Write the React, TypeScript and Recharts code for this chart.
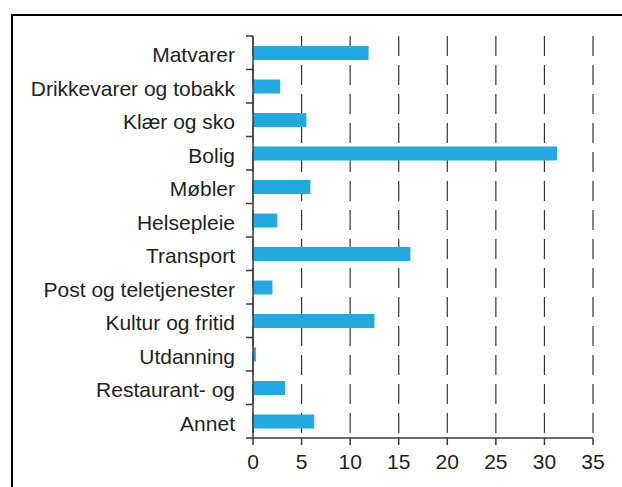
import { BarChart, Bar, XAxis, YAxis, CartesianGrid } from "recharts";

const categories = [
  "Matvarer",
  "Drikkevarer og tobakk",
  "Klær og sko",
  "Bolig",
  "Møbler",
  "Helsepleie",
  "Transport",
  "Post og teletjenester",
  "Kultur og fritid",
  "Utdanning",
  "Restaurant- og",
  "Annet",
];
const values = [11.9, 2.8, 5.5, 31.3, 5.9, 2.5, 16.2, 2.0, 12.5, 0.3, 3.3, 6.3];
const xTicks = [0, 5, 10, 15, 20, 25, 30, 35];

const data = categories.map((name, i) => ({ name, value: values[i] }));

const W = 622;
const H = 487;
const AXIS_X = 253;
const TOP = 36;
const BOTTOM_MARGIN = 19;
const X_AXIS_H = 30;
const PLOT_H = H - TOP - BOTTOM_MARGIN - X_AXIS_H;
const BAND = PLOT_H / categories.length;
const FONT = '"Liberation Sans", Arial, sans-serif';
const TEXT = "#231f20";
const AXIS = "#3a3a3a";

function CategoryTick(props: any) {
  const { y, payload, index } = props;
  const yc = payload.coordinate ?? y;
  return (
    <g>
      {index === 0 && (
        <line x1={AXIS_X - 7} x2={AXIS_X} y1={yc - BAND / 2} y2={yc - BAND / 2} stroke={AXIS} strokeWidth={1.5} />
      )}
      <line x1={AXIS_X - 7} x2={AXIS_X} y1={yc + BAND / 2} y2={yc + BAND / 2} stroke={AXIS} strokeWidth={1.5} />
      <text x={AXIS_X - 18} y={yc} dy="0.45em" textAnchor="end" fill={TEXT} fontSize={21} fontFamily={FONT}>
        {payload.value}
      </text>
    </g>
  );
}

export default function App() {
  return (
    <div style={{ position: "absolute", left: 0, top: 0, width: W, height: H, overflow: "hidden", background: "#fff" }}>
      <div
        style={{
          position: "absolute",
          left: 11,
          top: 14,
          width: 700,
          height: 600,
          borderTop: "2px solid #000",
          borderLeft: "2px solid #000",
        }}
      />
      <div style={{ position: "absolute", left: 0, top: 0 }}>
        <BarChart
          width={W}
          height={H}
          data={data}
          layout="vertical"
          margin={{ top: TOP, right: 29, bottom: BOTTOM_MARGIN, left: 0 }}
          barCategoryGap={0}
        >
          <CartesianGrid horizontal={false} stroke="#333" strokeDasharray="20 9" strokeWidth={1.2} />
          <XAxis
            type="number"
            domain={[0, 35]}
            ticks={xTicks}
            height={X_AXIS_H}
            interval={0}
            tickSize={7}
            tickMargin={9}
            stroke={AXIS}
            strokeWidth={1.5}
            tick={{ fill: TEXT, fontSize: 21, fontFamily: FONT }}
          />
          <YAxis
            type="category"
            dataKey="name"
            width={AXIS_X}
            interval={0}
            tickLine={false}
            stroke={AXIS}
            strokeWidth={1.5}
            tick={<CategoryTick />}
          />
          <Bar dataKey="value" fill="#22a9e0" barSize={14} isAnimationActive={false} />
        </BarChart>
      </div>
    </div>
  );
}
